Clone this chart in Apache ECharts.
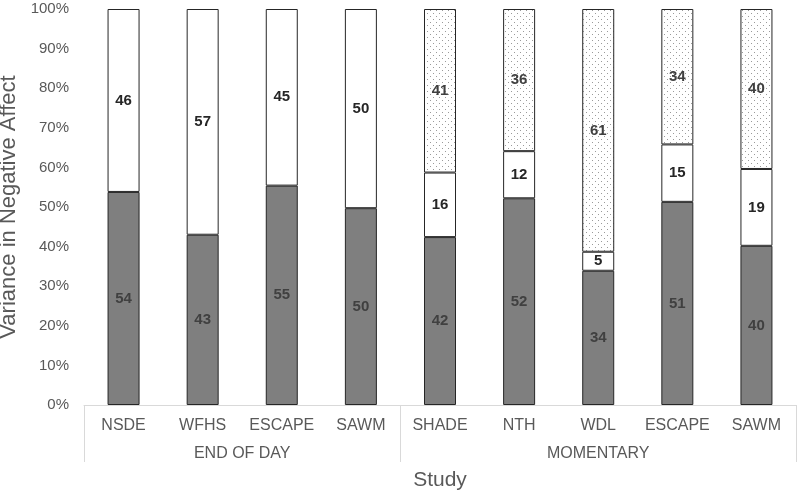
<!DOCTYPE html>
<html>
<head>
<meta charset="utf-8">
<script src="https://cdn.jsdelivr.net/npm/echarts@6/dist/echarts.min.js"></script>
<style>html,body{margin:0;padding:0;background:#fff;}#c{width:800px;height:493px;}</style>
</head>
<body>
<div id="c"></div>
<script>
const categories = ['NSDE','WFHS','ESCAPE','SAWM','SHADE','NTH','WDL','ESCAPE','SAWM'];
const groupNames = ['END OF DAY','MOMENTARY'];
const groupSizes = [4,5];
const grayValues = [53.8, 43.0, 55.4, 49.7, 42.4, 52.2, 33.9, 51.3, 40.2];
const whiteValues = [46.2, 57.0, 44.6, 50.3, 16.3, 11.9, 4.8, 14.5, 19.4];
const dottedValues = [null, null, null, null, 41.3, 35.9, 61.3, 34.2, 40.4];
const yTicks = [0,10,20,30,40,50,60,70,80,90,100];

const FONT = "'Liberation Sans', Arial, sans-serif";

// dotted pattern
const pc = document.createElement('canvas');
pc.width = 6; pc.height = 6;
const pctx = pc.getContext('2d');
pctx.fillStyle = '#ffffff'; pctx.fillRect(0,0,6,6);
pctx.fillStyle = '#9a9a9a';
pctx.fillRect(1,1,1,1);
pctx.fillRect(4,4,1,1);

// group boundaries and centers
const bounds = [0];
groupSizes.forEach(s => bounds.push(bounds[bounds.length-1] + s));
const centers = groupSizes.map((s,i) => bounds[i] + s/2);

function lbl(color){
  return {
    show: true, position: 'inside', color: color, fontWeight: 'bold',
    fontSize: 15, fontFamily: FONT,
    formatter: p => (p.value == null || p.value === 0) ? '' : String(Math.round(p.value))
  };
}

const chart = echarts.init(document.getElementById('c'), null, {renderer: 'canvas'});
chart.setOption({
  animation: false,
  backgroundColor: '#ffffff',
  grid: {left: 84, right: 4, top: 9, bottom: 88, outerBoundsMode: 'none', containLabel: false},
  xAxis: [{
    type: 'category', data: categories,
    axisLine: {show: true, lineStyle: {color: '#d9d9d9', width: 1}},
    axisTick: {show: false},
    axisLabel: {color: '#595959', fontSize: 16, fontFamily: FONT, margin: 13, interval: 0},
    name: 'Study', nameLocation: 'middle', nameGap: 65,
    nameTextStyle: {color: '#595959', fontSize: 21, fontFamily: FONT}
  }, {
    type: 'value', min: 0, max: categories.length, position: 'bottom',
    axisLine: {show: false},
    splitLine: {show: false},
    axisTick: {show: true, length: 57, customValues: bounds, lineStyle: {color: '#d9d9d9'}},
    axisLabel: {show: true, customValues: centers, margin: 41, color: '#595959', fontSize: 16, fontFamily: FONT,
      formatter: v => { const i = centers.indexOf(v); return i >= 0 ? groupNames[i] : ''; }}
  }],
  yAxis: {
    type: 'value', min: 0, max: 100, interval: 10,
    axisLine: {show: false}, axisTick: {show: false}, splitLine: {show: false},
    axisLabel: {color: '#595959', fontSize: 15, fontFamily: FONT, margin: 15, formatter: '{value}%'},
    name: 'Variance in Negative Affect', nameLocation: 'middle', nameRotate: 90, nameGap: 57,
    nameTextStyle: {color: '#595959', fontSize: 22, fontFamily: FONT}
  },
  series: [{
    type: 'bar', stack: 's', data: grayValues, barWidth: 32, xAxisIndex: 0,
    itemStyle: {color: '#7f7f7f', borderColor: '#262626', borderWidth: 1},
    label: lbl('#404040')
  }, {
    type: 'bar', stack: 's', data: whiteValues, barWidth: 32, xAxisIndex: 0,
    itemStyle: {color: '#ffffff', borderColor: '#262626', borderWidth: 1},
    label: lbl('#262626')
  }, {
    type: 'bar', stack: 's', data: dottedValues, barWidth: 32, xAxisIndex: 0,
    itemStyle: {color: {image: pc, repeat: 'repeat'}, borderColor: '#262626', borderWidth: 1},
    label: lbl('#404040')
  }]
});
</script>
</body>
</html>
